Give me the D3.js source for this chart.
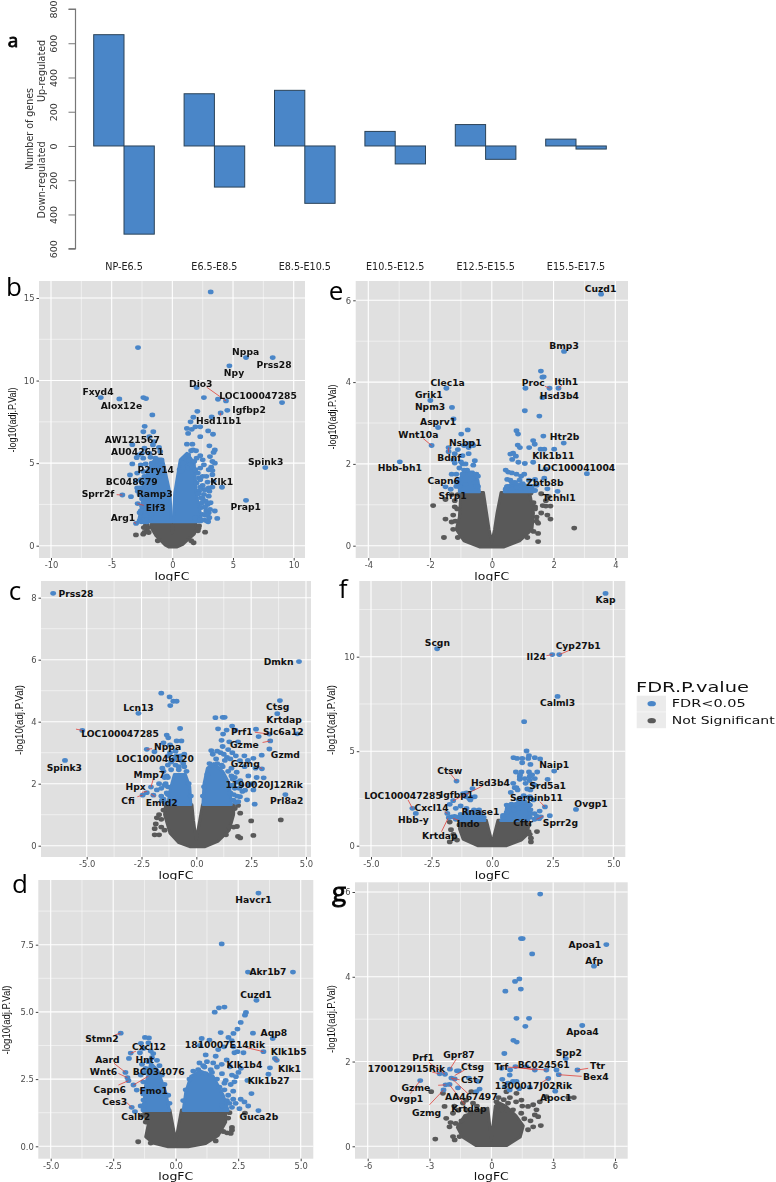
<!DOCTYPE html>
<html><head><meta charset="utf-8"><style>
html,body{margin:0;padding:0;background:#fff}
svg{display:block;filter:blur(.3px)}
text{font-family:"DejaVu Sans",sans-serif}
</style><script src="https://d3js.org/d3.v7.min.js"></script></head><body><svg id="c" width="776" height="1182"></svg>
<script>
// ---- panel a
const stages=["NP-E6.5","E6.5-E8.5","E8.5-E10.5","E10.5-E12.5","E12.5-E15.5","E15.5-E17.5"];
const upGenes=[650,305,325,85,125,40];
const downGenes=[515,240,335,105,78,18];
const barTicks=[800,600,400,200,0,-200,-400,-600];

// ---- panel b  (logFC, -log10 adj P)
const bSig=[[3.16,15.37],[-2.83,12],[6.07,11.39],[8.27,11.39],[4.7,10.89],[2,9.58],[2.6,8.97],[-5.9,8.97],[-4.37,8.89],[-2.39,8.97],[-2.17,8.91],[3.76,8.87],[4.42,8.77],[9.04,8.67],[4.53,8.2],[3.98,8.04],[2.06,8.14],[3.24,7.8],[-1.65,7.92],[1.73,7.78],[-2.28,7.23],[-1.57,6.9],[-2.39,6.9],[-1.9,6.6],[-3.3,6.12],[-2.94,5.33],[-3.3,4.95],[-3.49,4.28],[7.66,4.73],[4.09,3.54],[6.07,2.75],[-4.12,3.07],[-3.41,2.97],[-2.86,2.55],[-2.99,1.35],
[1.5,7.5],[1.2,7.1],[1.6,7.05],[1.9,7.2],[2.3,7.2],[1.3,6.8],[2.3,6.6],[2.95,6.95],[3.35,6.75],[1.2,6.15],[1.65,6.15],[3.05,6.05],[3.5,5.8],[3.4,5.65],[1.7,5.8],[1.55,5.75],[1.95,5.75],[1.3,5.5],[1,5.3],[2.3,5.45],[2,5.3],[3.1,5.4],[2.5,5.2],[3.3,5.1],[3.5,5],[1.4,5.2],[1.8,5.1],[2.6,4.9],[3.2,4.75],[3,4.6],[3.3,4.55],[2.8,4.2],[3.4,3.9],[3.3,4.3],[2.9,3.85],[3,3.5],[3.3,3.55],[2.5,3.65],[2.2,3.3],[2.6,3.1],[3,3],[2.5,2.85],[2.9,2.5],[2.4,2.3],[2.8,2.1],[3,2],[2.5,1.9],[2.7,1.85],[3.7,1.65],[2.9,1.85],[1.9,1.7],[2.3,1.6],[2.1,4.4],[2.3,4.7],[1.5,4.9],[2.2,4.1],[2,3.8],
[.6,4.6],[.9,5],[.75,4.5],[1.3,4.7],[1.65,4.75],[1.9,4.6],[2.3,4],[2.5,4.2],[2.6,3.4],[2.35,2.9],[2.75,2.7],[3.15,2.6],[3.1,2.2],[2.35,2.55],[2.7,2.35],[2.65,1.55],[2.85,1.5],[3.05,1.7],[2.95,1.45],[2.3,3.55],[2.15,3.15],[3.5,2.1],[3.05,3.3],[2.75,3.4],[2.45,2.6],
[-2.3,5.9],[-2.5,5.6],[-1.5,6.3],[-1.6,6.1],[-1.1,5.95],[-1,5.7],[-1.9,5.6],[-2.8,5.5],[-2.4,5.3],[-1.8,5.35],[-1.4,5.3],[-2.6,4.9],[-2.2,4.95],[-1.7,5],[-1.2,5.1],[-.9,5.2],[-2.9,4.4],[-2.4,4.5],[-1.9,4.6],[-1.3,4.6],[-.9,4.7],[-3,3.9],[-2.6,4],[-2.1,4.1],[-1.6,4.1],[-2.9,3.5],[-2.5,3.5],[-2.1,3.6],[-2.7,3.1],[-2.3,3],[-2,3.2],[-2.5,2.4],[-2.1,2.6],[-2.3,2.1],[-1.9,2.2],[-2.5,1.6],[-2.2,1.8],[-1.9,1.6],[-2.1,1.45],[-1.7,1.9],[-1.5,2.5],[-1.6,3.1],[-1.3,3.5],[-1.5,3.9],[-1.1,4.2],
[-1.8,4.3],[-2.3,4.2],[-2.5,3.8],[-2.7,3.5],[-2.2,3.3],[-2.5,2.85],[-2.85,3.3],[-2.35,2.6],[-2.6,2.1],[-2.7,1.5],[-2.55,1.45],[-2.35,1.45],[-2.2,1.55],[-2.7,2],[-2.15,2.3],[-2.3,3.7]];
const bNs=[[-3,.65],[-2.4,.7],[-2.3,.8],[-2.1,.9],[-2.2,1.2],[2.7,.82],[1.75,.18],[-2,1.1],[-2.1,1.25],[-1.95,.8],[2.1,.9],[2.2,1.2],[2.15,1.05],[-2.35,1.1],[1.55,.3],[-1.2,.3]];
const bCoreGrey=[[-.05,1.42],[-1.7,1.42],[-1.75,1.1],[-1.35,.6],[-1,.35],[-.6,.05],[-.3,-.08],[.4,-.08],[.9,.1],[1.25,.35],[1.8,.7],[2,1.1],[1.9,1.42],[.05,1.42],[.02,.9],[0,.75]];
const bCoreBlue=[[[.07,1.45],[.2,3.2],[.65,5.2],[1.2,5.6],[1.8,5],[1.9,4],[2,3],[2.3,2],[2.4,1.45]],[[-.07,1.45],[-.2,3.2],[-.8,5.2],[-1.4,5.3],[-2,4.6],[-2.4,3.4],[-2.5,2.5],[-2.8,1.45]]];
const bLabels=[["Nppa",6.04,11.74],["Prss28",8.38,10.99],["Npy",5.08,10.48],["Dio3",2.34,9.84],["LOC100047285",7.06,9.11],["Fxyd4",-6.13,9.31],["Alox12e",-4.2,8.48],["Igfbp2",6.32,8.26],["Hsd11b1",3.82,7.56],["AW121567",-3.3,6.44],["AU042651",-2.88,5.72],["Spink3",7.69,5.07],["P2ry14",-1.37,4.63],["BC048679",-3.35,3.9],["Klk1",4.07,3.9],["Sprr2f",-6.13,3.17],["Ramp3",-1.46,3.13],["Elf3",-1.37,2.32],["Prap1",6.04,2.34],["Arg1",-4.07,1.68]];
const bLinks=[[2.83,9.6,4.42,8.77],[-4.59,3.09,-4.12,3.07],[-2.86,2.55,-2.34,2.44],[-3.16,1.41,-2.99,1.35],[3.93,7.86,3.98,8.04]];

// ---- panel e
const eSig=[[3.54,6.15],[2.34,4.75],[1.59,4.27],[1.68,4.13],[1.64,4.12],[1.64,3.62],[1.87,3.85],[2.16,3.85],[1.09,3.85],[1.07,3.3],[1.54,3.17],[-1.47,3.85],[-1.99,3.55],[-1.29,3.38],[-1.24,3.1],[-1.74,2.89],[-.78,2.83],[-.99,2.73],[-1.95,2.45],[-1.4,2.4],[-1.4,2.3],[-2.98,2.05],[.8,2.81],[.85,2.73],[1.67,2.68],[2.33,2.51],[1.34,2.57],[1.39,2.48],[.84,2.46],[.91,2.4],[1.21,2.4],[1.58,2.36],[1.7,2.36],[2.02,2.36],[.69,2.26],[.6,2.24],[.78,2.19],[.66,2.11],[.86,2.04],[1.07,2.01],[1.34,2.04],[1.74,1.87],[3.08,1.76],[.45,1.85],[.53,1.8],[.65,1.78],[.8,1.75],[.95,1.7],[1.05,1.75],[.6,1.6],[.5,1.62],[1,1.52],[1.2,1.6],[1.4,1.62],[1.7,1.65],[1.3,1.45],[1.8,1.39],[2.13,1.33],[-1.5,1.44],[-1.33,1.38],
[-.72,2.5],[-.65,2.5],[-.9,2.45],[-1.1,2.35],[-1.2,2.25],[-1.25,2.1],[-1.2,2.02],[-.95,2.2],[-.75,2.25],[-.55,2.08],[-.6,1.97],[-.95,2],[-.85,2],[-.8,1.85],[-1.05,1.9],[-1.3,1.75],[-1.15,1.75],[-.5,1.75],[-.45,1.7],[-1.1,1.6],[-1.15,1.45],[-.9,1.85],[-1,2.05],
[-1.05,1.45],[-.85,1.5],[-.7,1.75],[-.55,1.55],[-.5,1.45],[-.45,1.45],[-.95,1.75],[-1.15,1.55],[-.6,2.45],[-.75,2.4],[.5,1.45],[.45,1.38],[.75,1.55],[.9,1.6],[1.1,1.4],[1.4,1.35],[.8,1.42],[1.25,1.35],[.65,1.55],[1.45,1.48]];
const eNs=[[-1.9,.98],[-1.5,1.13],[-1.3,1.25],[-1.5,.65],[-1.3,.58],[-1.55,.2],[-1.25,.75],[-1.2,.95],[-1.2,1.1],[1.6,1.27],[1.75,1.1],[1.65,.98],[1.75,.97],[1.9,.97],[1.85,1.2],[1.6,.8],[1.8,.75],[1.9,.65],[2.67,.43],[1.5,.55],[1.5,.1],[1.5,.3],[1.4,.95],[1.45,.7],[-1.1,1.25],[-1.12,.9],[-1.18,.6],[-1.25,.4],[-1.1,.2],[1.4,.9],[1.45,.6],[1.35,1.05],[1.25,1.28],[1.15,.2],[1.35,.35]];
const eCoreGrey=[[-.27,1.3],[-1,1.3],[-1.05,.7],[-1.15,.4],[-.9,.12],[-.4,-.03],[.4,-.03],[.9,.12],[1.3,.4],[1.35,.8],[1.25,1.2],[1.2,1.3],[.3,1.3],[.17,.8],[.09,.4],[0,.08],[-.09,.4],[-.17,.8]];
const eCoreBlue=[[[.4,1.32],[.45,1.45],[.7,1.5],[1,1.5],[1.3,1.45],[1.35,1.32]],[[-.4,1.32],[-.45,1.6],[-.6,1.8],[-.9,1.8],[-1.05,1.6],[-1.05,1.32]]];
const eLabels=[["Cuzd1",3.52,6.29],["Bmp3",2.34,4.89],["Itih1",2.41,4.01],["Clec1a",-1.43,3.99],["Proc",1.34,3.99],["Hsd3b4",2.19,3.66],["Grik1",-2.04,3.69],["Npm3",-2,3.39],["Asprv1",-1.74,3.02],["Wnt10a",-2.38,2.72],["Htr2b",2.36,2.66],["Nsbp1",-.86,2.53],["Klk1b11",1.99,2.21],["Bdnf",-1.38,2.15],["Hbb-bh1",-2.98,1.9],["LOC100041004",2.74,1.91],["Capn6",-1.56,1.58],["Zbtb8b",1.72,1.54],["Sfrp1",-1.27,1.22],["Tchhl1",2.18,1.17]];
const eLinks=[[1.72,3.9,1.87,3.85],[2.28,3.93,2.16,3.85],[-2.22,2.62,-1.95,2.45],[-1.4,2.28,-1.4,2.4]];

// ---- panel c
const cSig=[[-6.53,8.14],[4.68,5.94],[-1.6,4.92],[-1.22,4.8],[-1.19,4.52],[-1.05,4.66],[-.9,4.66],[-2.64,4.27],[3.81,4.68],[3.69,4.26],[.87,4.13],[1.2,4.14],[1.29,4.14],[1.63,3.86],[2.72,3.76],[.99,3.77],[1.38,3.73],[1.78,3.73],[1.22,3.6],[2.84,3.52],[3.33,3.6],[4.6,3.61],[3.37,3.38],[3.33,3.12],[-5.2,3.72],[-.74,3.78],[-1.35,3.57],[-1.28,3.48],[-.9,3.38],[-.68,3.38],[-1.5,3.32],[-1.2,3.25],[-2.26,3.11],[-1.91,3.03],[-5.99,2.75],[2.99,2.48],[3.07,2.19],[4.06,1.65],[-2.07,1.89],[-2.45,1.63],[-2.26,1.71],[-1.96,1.63],[-1.57,1.46],
[.68,3.07],[1.15,3.4],[1.5,3.35],[1.9,3.35],[1.2,3.2],[1.64,3],[2.19,2.9],[2.6,2.82],[1.99,2.74],[2.98,2.92],[1.84,2.37],[2.37,2.25],[2.75,2.2],[2,2.1],[2.05,1.95],[2.55,2],[2.22,1.79],[2.6,1.8],[1.99,1.58],[2.31,1.48],[2.66,1.34],[1.69,1.47],[1.91,1.42],[1.1,3],[1.4,2.85],[.9,2.8],[1.3,2.75],[.6,2.65],[1.6,2.5],[1.2,2.55],[1.65,2.15],[1.75,1.85],[1.55,1.7],
[.3,1.6],[.35,1.9],[.5,2.3],[.7,2.6],[.95,2.65],[1.15,2.6],[1.45,2.4],[1.6,2.25],[1.75,2.2],[1.85,2.05],[1.65,1.95],[1.7,1.65],[1.85,1.6],[1.95,1.85],[1.8,1.4],[2.1,1.75],[.75,2.95],[.95,3.05],[1.25,2.95],[1.55,2.8],[1.45,3.1],[1.8,2.9],[2.2,2.55],[2.35,2.75],[2.7,2.5],[2.4,1.95],
[-1.5,2.4],[-1.3,2.6],[-1,2.8],[-.6,2.65],[-.9,2.9],[-.7,2.9],[-1.3,2.9],[-1.7,2],[-1.6,1.85],[-1.3,1.9],[-1.5,1.5],[-1.3,1.65],[-1.8,1.8],[-1.1,2.75],[-.8,2.45],[-1.45,2.2],[-1.45,1.95],
[-.25,1.6],[-.35,2],[-.45,2.4],[-.55,2.55],[-.8,2.55],[-.95,2.6],[-1.15,2.45],[-1.35,2.25],[-1.4,2],[-1.35,1.7],[-1.45,1.4],[-1.25,1.4],[-1.6,1.6],[-1.15,2.7],[-.7,2.75],[-.55,2.95],[-1.2,3],[-.95,3.05],[-1.3,2.2],[-1.55,2.5]];
const cNs=[[-1.8,.9],[-1.7,1],[-1.6,.85],[-1.85,.7],[-1.9,.55],[-1.9,.35],[-1.7,.35],[-1.6,.6],[1.5,.6],[1.7,.6],[1.85,.62],[1.9,.3],[2,.25],[2.5,.8],[2.6,.33],[3.85,.83],[1.9,1.3],[2,1.05],[-1.5,1.15],[-1.45,.5],[1.35,.35],[1.75,1.2]];
const cCoreGrey=[[-.2,1.32],[-1.4,1.32],[-1.45,1],[-1.2,.4],[-.8,.1],[-.3,-.03],[.4,-.03],[1,.15],[1.5,.5],[1.7,1],[1.7,1.32],[.28,1.32],[.15,.8],[.06,.45],[0,.2],[-.06,.45],[-.13,.8]];
const cCoreBlue=[[[.3,1.33],[.35,2],[.5,2.5],[.8,2.65],[1.2,2.4],[1.5,2],[1.6,1.33]],[[-.25,1.33],[-.3,1.9],[-.5,2.3],[-1,2.3],[-1.2,1.8],[-1.3,1.33]]];
const cLabels=[["Prss28",-5.49,8.13],["Dmkn",3.75,5.94],["Lcn13",-2.64,4.45],["Ctsg",3.71,4.47],["Krtdap",4,4.07],["Prf1",2.07,3.68],["Slc6a12",3.97,3.68],["LOC100047285",-3.48,3.6],["Nppa",-1.31,3.2],["Gzme",2.19,3.27],["Gzmd",4.06,2.92],["LOC100046120",-1.88,2.81],["Gzmg",2.23,2.65],["Spink3",-6.02,2.53],["Mmp7",-2.14,2.28],["1190020J12Rik",3.09,1.98],["Hpx",-2.77,1.89],["Cfi",-3.12,1.46],["Emid2",-1.58,1.4],["Prl8a2",4.12,1.44]];
const cLinks=[[-5.49,3.76,-5.2,3.72],[-2.26,3.11,-2.02,3.13],[2.67,3.66,3.33,3.6],[3.02,3.33,3.37,3.38],[2.83,2.57,2.99,2.48],[-1.96,2.16,-2.07,1.89],[-2.69,1.58,-2.45,1.63],[-2.49,1.72,-2.26,1.75],[-2.07,1.67,-1.87,1.58]];

// ---- panel f
const fSig=[[4.68,13.35],[-2.27,10.42],[2.48,10.11],[2.77,10.11],[2.7,7.9],[1.32,6.56],[1.42,5.01],[.88,4.66],[1.03,4.62],[1.24,4.62],[1.52,4.76],[1.49,4.62],[1.76,4.66],[1.98,4.59],[1.24,4.39],[1.58,4.3],[2.56,3.95],[.98,3.9],[1.21,3.9],[1.52,3.9],[1.86,3.9],[1.58,3.74],[1.14,3.65],[1.55,3.65],[1.76,3.55],[2.29,3.51],[1.14,3.51],[1.38,3.3],[.87,3.3],[1.76,3.2],[.93,3.07],[1,3.07],[1.45,3],[1.58,2.95],[.77,2.82],[1.56,2.6],[1.14,2.52],[1.7,2.42],[3.46,1.92],[2.18,2.05],[1.96,1.83],[2.38,1.59],[2.01,1.53],[1.94,1.43],[1.56,2.15],[1.58,1.9],[1.29,2.25],[1.1,2.4],[.6,2.15],[.7,2],[.9,1.9],[1.1,2],[1.4,2.05],[1.75,1.7],[.45,1.5],
[.45,1.6],[.6,1.75],[.65,2.1],[.8,2.2],[1,2.2],[1.2,2.35],[1.35,2.3],[1.5,2.2],[1.6,1.7],[1.55,1.5],[1.75,1.4],[1.3,2.65],[1.5,2.55],[1.05,2.95],[1.55,3.45],[1.35,3.55],[1.7,3.25],[1.65,3.75],[1.15,3.75],[1.85,1.55],
[-1.47,3.42],[-.81,3.02],[-1.06,2.8],[-.72,2.59],[-.9,2.42],[-1.61,2.38],[-1.75,2.19],[-3.29,1.98],[-3.15,1.71],[-1.5,1.98],[-1.85,1.71],[-1.68,1.53],[-1.79,1.48],[-1.34,1.5],[-1.06,1.98],[-1,1.75],[-.54,1.89],[-1.2,2.75],[-1.3,2.1],[-.75,1.8],[-.6,1.6],
[-.35,1.5],[-.5,1.7],[-.7,1.85],[-1.05,1.75],[-1.3,1.65],[-1.45,1.5],[-1.5,1.4],[-.95,2.5],[-1.1,2.6],[-.85,2.55],[-.75,1.9],[-1.55,1.55],[-.45,1.6]];
const fNs=[[-1.7,.85],[-1.6,.6],[-1.75,.2],[-1.55,.4],[-1.45,.3],[-1.75,1.25],[1.85,.75],[1.6,.4],[1.6,.2],[1.5,.75],[-1.35,1.1],[1.5,1.1],[1.55,.6]];
const fCoreGrey=[[-.24,1.35],[-1.3,1.35],[-1.35,.9],[-1.2,.35],[-.6,0],[.6,0],[1.2,.3],[1.45,.6],[1.5,1],[1.4,1.35],[.24,1.35],[.13,.8],[.06,.45],[0,.25],[-.06,.45],[-.13,.8]];
const fCoreBlue=[[[.35,1.33],[.55,1.6],[.6,2.1],[.9,2.1],[1.3,2.3],[1.55,2.1],[1.5,1.33]],[[-.3,1.33],[-.45,1.6],[-.8,1.7],[-1.3,1.55],[-1.4,1.33]]];
const fLabels=[["Kap",4.68,13],["Scgn",-2.26,10.72],["Cyp27b1",3.55,10.6],["Il24",1.82,10],["Calml3",2.7,7.57],["Naip1",2.56,4.27],["Ctsw",-1.75,3.99],["Hsd3b4",-.07,3.35],["Srd5a1",2.29,3.19],["LOC100047285",-3.68,2.66],["Igfbp1",-1.47,2.7],["Serpinb11",1.83,2.52],["Ovgp1",4.08,2.22],["Cxcl14",-2.5,2.03],["Rnase1",-.48,1.8],["Hbb-y",-3.25,1.38],["Indo",-.99,1.16],["Cftr",1.28,1.22],["Sprr2g",2.82,1.23],["Krtdap",-2.16,.53]];
const fLinks=[[-3.47,2.42,-3.29,1.98],[-1.71,3.79,-1.47,3.42],[-.4,3.16,-1.61,2.38],[-1.96,1.8,-1.85,1.71],[-1.61,1.45,-1.34,1.32],[-2.09,.74,-1.82,1.45],[2.24,10.05,2.48,10.11],[3.21,10.35,2.77,10.11],[1.97,2.33,2.18,2.05],[2.11,1.57,1.83,1.39]];

// ---- panel d
const dSig=[[3.31,9.42],[1.84,7.53],[2.89,6.48],[4.69,6.48],[3.23,5.43],[1.95,5.18],[1.73,5.15],[1.56,4.99],[2.81,4.98],[2.77,4.88],[2.6,4.61],[2.47,4.36],[2.31,4.2],[3.09,4.21],[1.8,4.23],[3.88,4.01],[2.11,4.05],[1.04,4.01],[1.35,3.95],[2.24,3.93],[.97,3.75],[1.7,3.6],[1.93,3.7],[2.31,3.7],[3.51,3.52],[2.47,3.52],[2.35,3.48],[2.71,3.48],[3.97,3.27],[4.04,3.2],[3.77,2.92],[3.71,2.68],[2.87,2.45],[2.61,2.9],[2.51,2.75],[2.41,2.59],[2.17,2.96],[2.04,3.21],[1.84,3.05],[3.03,1.96],[3.31,1.33],[1.2,3.4],[1.5,3.1],[1.1,3],[1.4,2.85],[.9,2.7],[1.85,2.7],[2.2,2.3],[2.3,2.05],[2.6,1.75],[2.4,1.6],[2.55,1.4],[2.9,1.5],[2.75,1.65],[2.15,1.6],[2,2.45],
[.3,1.7],[.4,2.1],[.55,2.5],[.7,2.8],[.9,2.85],[1.2,2.7],[1.45,2.75],[1.65,2.5],[1.75,2.2],[1.95,2.1],[2.1,1.9],[2.05,1.7],[1.85,1.5],[2.25,1.45],[2.3,1.75],[.95,3.1],[1.25,3.15],[1.65,2.95],[1.6,3.35],[2.25,2.65],[1.95,2.35],[1.15,2.95],[2.35,2.4],
[-2.2,4.21],[-1.23,4.05],[-1.07,4.03],[-1.39,3.83],[-1.09,3.85],[-1.8,3.47],[-1.87,3.27],[-1.43,3.48],[-1.29,3.64],[-1.03,3.2],[-2.01,2.75],[-1.93,2.55],[-1.89,2.44],[-1.69,2.28],[-1.56,2.09],[-1.76,1.45],[-1.63,1.29],[-1.29,1.35],[-1.29,1.72],[-1.3,2.1],[-1.2,2.9],[-1.3,2.4],[-1.4,2.65],[-1.35,3.05],
[-.25,1.6],[-.3,1.9],[-.45,2.3],[-.55,2.65],[-.65,3],[-.75,3.2],[-.95,3.3],[-1.1,3.15],[-1.25,2.75],[-1.3,1.95],[-1.4,1.5],[-1.25,1.55],[-.9,3.45],[-1,3.55]];
const dNs=[[-1.5,.17],[-1,.12],[-1.35,1.15],[1.6,.2],[2.25,.7],[2.25,.6],[2.05,.5],[2.2,.48],[2.1,1.05],[2.77,1.23],[2.15,1.25],[-1.2,.9],[1.9,.55]];
const dCoreGrey=[[-.23,1.35],[-1.3,1.35],[-1.1,.8],[-1.2,.35],[-.9,.12],[-.3,-.02],[.5,-.02],[1.2,.1],[1.7,.4],[2,.9],[2,1.3],[.23,1.35],[.12,.8],[.05,.45],[0,.2],[-.05,.45],[-.12,.8]];
const dCoreBlue=[[[.3,1.33],[.4,2],[.6,2.6],[1,2.8],[1.5,2.6],[1.9,1.9],[2.1,1.33]],[[-.25,1.33],[-.4,2],[-.7,2.8],[-1,3.1],[-1.2,2.3],[-1.3,1.33]]];
const dLabels=[["Havcr1",3.11,9.18],["Akr1b7",3.69,6.48],["Cuzd1",3.21,5.65],["Aqp8",3.93,4.24],["Stmn2",-2.95,3.99],["1810007E14Rik",1.97,3.79],["Cxcl12",-1.07,3.69],["Klk1b5",4.52,3.51],["Aard",-2.73,3.23],["Hnt",-1.24,3.23],["Klk1b4",2.75,3.05],["Klk1",4.55,2.9],["Wnt6",-2.89,2.78],["BC034076",-.68,2.79],["Klk1b27",3.72,2.44],["Capn6",-2.64,2.12],["Fmo1",-.88,2.08],["Ces3",-2.44,1.67],["Calb2",-1.6,1.1],["Guca2b",3.33,1.09]];
const dLinks=[[-2.43,4.14,-2.2,4.21],[-1.59,3.54,-1.8,3.46],[-2.47,3.09,-2.01,2.75],[-2.29,2.71,-1.93,2.55],[-2.29,2.28,-1.89,2.44],[-1.09,2.61,-1.69,2.28],[-1.96,1.63,-1.76,1.45],[2.84,3.67,3.51,3.52],[4.07,3.17,3.97,3.27]];

// ---- panel g
const gSig=[[2.37,5.95],[5.58,4.76],[4.98,4.25],[1.44,4.9],[1.52,4.9],[1.98,4.54],[1.36,3.95],[1.15,3.89],[1.43,3.71],[.68,3.66],[1.22,3.02],[1.83,3.02],[1.65,2.83],[4.41,2.85],[1.07,2.5],[1.23,2.46],[.63,2.19],[3.61,2.07],[4.18,1.8],[3.27,1.69],[3.16,1.8],[2.67,1.8],[2.11,1.8],[1.7,1.88],[1.17,1.88],[.49,1.84],[.91,1.8],[.89,1.68],[.53,1.58],[2.76,1.6],[1.05,1.53],[1.22,1.53],[.81,1.49],[1.35,1.36],[1.86,1.39],[.65,1.41],[.89,1.33],[3.1,1.3],
[-2.01,1.82],[-1.67,1.78],[-1.58,1.78],[-2.25,1.7],[-2.51,1.71],[-1.94,1.61],[-1.78,1.59],[-1.09,1.61],[-3.45,1.55],[-1.62,1.38],[-2.22,1.45],[-2.03,1.46],[-2.32,1.33],[-.65,1.53],[-.57,1.35],[-.73,1.29]];
const gNs=[[-2.92,1.29],[-2.35,1.25],[-2.72,.17],[-2.19,.66],[-1.98,.56],[-1.73,.54],[-2.03,.46],[-2.27,.94],[-1.86,.78],[-1.38,1.02],[-.97,1.29],[-1.22,1.09],[-.89,1.02],[-.4,.86],[-.7,.86],[-1.8,.95],[-1.6,.85],[-1.2,.85],[-1,.82],[-.7,.95],[.73,1.29],[1.22,1.25],[1.46,1.09],[.81,1.02],[1.05,.86],[1.78,.94],[2.03,.98],[2.19,.86],[2.35,1.05],[2.67,1.17],[2.11,.74],[2.27,.7],[2.4,.49],[2.03,.46],[1.78,.39],[.73,.86],[.4,.94],[.49,.86],[4,1.15],[3.73,1.15],[-1.54,.23],[-1.86,.23],[-1.78,.15],[1.2,1.05],[1.5,.95],[.9,1.15],[.6,1.1],[1.9,.6],[1.6,.65],[1.45,.78],[-1.45,.6],[.25,1.05],[.35,1.15]];
const gCoreGrey=[[-.17,.9],[-.5,.85],[-1.3,.72],[-1.65,.45],[-1.4,.22],[-.75,.02],[.75,.02],[1.4,.22],[1.55,.48],[1.2,.72],[.7,.95],[.4,1.02],[.19,.95],[.08,.5],[0,.15],[-.08,.5]];
const gCoreBlue=[];
const gLabels=[["Apoa1",4.54,4.75],["Afp",4.99,4.38],["Apoa4",4.42,2.71],["Gpr87",-1.57,2.15],["Spp2",3.76,2.2],["Prf1",-3.31,2.09],["Trf",.49,1.87],["BC024561",2.54,1.92],["Ctsg",-.91,1.88],["Ttr",5.15,1.91],["1700129I15Rik",-4.12,1.82],["Bex4",5.07,1.65],["Cst7",-.92,1.57],["1300017J02Rik",2.04,1.43],["Gzme",-3.66,1.39],["Apoc1",3.13,1.15],["AA467497",-.97,1.16],["Ovgp1",-4.12,1.13],["Krtdap",-1.09,.89],["Gzmg",-3.14,.8]];
const gLinks=[[-3.03,1.98,-2.25,1.7],[-1.7,2.06,-2.01,1.82],[-1.3,1.8,-1.78,1.67],[-2.87,1.75,-2.51,1.71],[-1.54,1.57,-1.94,1.61],[-2.58,1.44,-2.22,1.45],[-3.94,1.24,-3.45,1.55],[-3,.98,-2.32,1.33],[-1.13,1.24,-1.94,1.61],[-1.3,.99,-2.03,1.45],[.78,1.87,2.67,1.8],[1.1,1.88,2.11,1.8],[4.7,1.84,4.18,1.8],[4.38,1.65,3.27,1.69],[2.46,1.51,2.76,1.6]];

const legendItems=["FDR<0.05","Not Significant"];
const BLUE="#4a86c8",GREY="#595959",RED="#e0413a";

const svg=d3.select("#c");

// ---------- panel a drawing
(function(){
  const y=d3.scaleLinear().domain([800,-600]).range([9,248.7]);
  const centers=d3.scalePoint().domain(stages).range([124,576]);
  const g=svg.append("g");
  const bw=30.3;
  stages.forEach((s,i)=>{
    g.append("rect").attr("x",centers(s)-bw).attr("y",y(upGenes[i])).attr("width",bw).attr("height",y(0)-y(upGenes[i]));
    g.append("rect").attr("x",centers(s)).attr("y",y(0)).attr("width",bw).attr("height",y(-downGenes[i])-y(0));
  });
  g.selectAll("rect").attr("fill",BLUE).attr("stroke","#2b4358").attr("stroke-width",1);
  const ax=svg.append("g").attr("transform","translate(75.5,0)").call(d3.axisLeft(y).tickValues(barTicks).tickSize(7).tickFormat(d=>Math.abs(d)));
  ax.select(".domain").attr("stroke","#777").attr("stroke-width",1.2).attr("d",`M-7,${y(800)}H0V${y(-600)}H-7`);
  ax.selectAll("line").attr("stroke","#777");
  ax.selectAll("text").attr("fill","#333").attr("font-size",9.5).attr("x",0).attr("y",0).attr("dy",null)
    .attr("text-anchor","middle").attr("transform","translate(-19,0) rotate(-90)");
  const rot=(t,x,yy,len)=>svg.append("text").text(t).attr("transform",`translate(${x},${yy}) rotate(-90)`).attr("text-anchor","middle").attr("font-size",10).attr("fill","#333").attr("textLength",len).attr("lengthAdjust","spacingAndGlyphs");
  rot("Number of genes",33,129,82);
  rot("Up-regulated",45,71,62);
  rot("Down-regulated",45,180,77);
  svg.append("g").selectAll("text").data(stages).join("text").text(d=>d)
    .attr("x",d=>centers(d)).attr("y",270).attr("text-anchor","middle").attr("font-size",9.6).attr("fill","#222");
})();

// ---------- volcano drawing
function volcano(p){
  const x=d3.scaleLinear().domain(p.xa).range(p.xr);
  const y=d3.scaleLinear().domain(p.ya).range(p.yr);
  const g=svg.append("g");
  g.append("rect").attr("x",p.box[0]).attr("y",p.box[2]).attr("width",p.box[1]-p.box[0]).attr("height",p.box[3]-p.box[2]).attr("fill","#e0e0e0");
  const grid=(vals,w,v)=>g.append("g").selectAll("line").data(vals).join("line").attr("stroke","#fff").attr("stroke-width",w)
    .attr("x1",d=>v?x(d):p.box[0]).attr("x2",d=>v?x(d):p.box[1]).attr("y1",d=>v?p.box[2]:y(d)).attr("y2",d=>v?p.box[3]:y(d));
  const mid=t=>t.slice(1).map((d,i)=>(d+t[i])/2);
  grid(mid(p.xt),.5,true);grid(mid(p.yt.concat([p.yt[p.yt.length-1]*2-p.yt[p.yt.length-2]])).filter(d=>y(d)>p.box[2]),.5,false);
  grid(p.xt,1.1,true);grid(p.yt,1.1,false);
  const line=d3.line().x(d=>x(d[0])).y(d=>y(d[1])).curve(d3.curveLinearClosed);
  g.append("path").attr("d",line(p.grey)).attr("fill",GREY).attr("stroke",GREY).attr("stroke-width",3).attr("stroke-linejoin","round");
  const dots=(d,c)=>g.append("g").selectAll("ellipse").data(d).join("ellipse").attr("cx",e=>x(e[0])).attr("cy",e=>y(e[1])).attr("rx",2.9).attr("ry",2.4).attr("fill",c);
  dots(p.ns,GREY);
  p.blue.forEach(b=>g.append("path").attr("d",line(b)).attr("fill",BLUE).attr("stroke",BLUE).attr("stroke-width",3).attr("stroke-linejoin","round"));
  dots(p.sig,BLUE);
  g.append("g").selectAll("line").data(p.links).join("line").attr("x1",d=>x(d[0])).attr("y1",d=>y(d[1])).attr("x2",d=>x(d[2])).attr("y2",d=>y(d[3])).attr("stroke",RED).attr("stroke-width",.8);
  g.append("g").selectAll("text").data(p.labels).join("text").text(d=>d[0]).attr("x",d=>x(d[1])).attr("y",d=>y(d[2])).attr("dy","0.36em")
    .attr("text-anchor","middle").attr("font-size",9.2).attr("font-weight","bold").attr("fill","#111");
  const ax=g.append("g").attr("transform",`translate(0,${p.box[3]})`).call(d3.axisBottom(x).tickValues(p.xt).tickSize(2.5).tickPadding(2).tickFormat(d=>d.toFixed(p.xf)));
  const ay=g.append("g").attr("transform",`translate(${p.box[0]},0)`).call(d3.axisLeft(y).tickValues(p.yt).tickSize(2.5).tickPadding(2).tickFormat(d=>d.toFixed(p.yf)));
  [ax,ay].forEach(a=>{a.select(".domain").remove();a.selectAll("line").attr("stroke","#444");a.selectAll("text").attr("fill","#4d4d4d").attr("font-size",8.4).style("font-family",'"DejaVu Sans",sans-serif');});
  g.append("text").text("logFC").attr("x",(p.box[0]+p.box[1])/2).attr("y",p.titleY).attr("text-anchor","middle").attr("font-size",10.5).attr("fill","#111").attr("textLength",35).attr("lengthAdjust","spacingAndGlyphs");
  g.append("text").text("-log10(adj.P.Val)").attr("transform",`translate(${p.ylab[0]},${p.ylab[1]}) rotate(-90)`).attr("text-anchor","middle").attr("font-size",10.5).attr("fill","#111").style("font-family",'"Liberation Sans",sans-serif').attr("textLength",p.ylab[2]).attr("lengthAdjust","spacingAndGlyphs");
}
volcano({xa:[-10,10],xr:[51,293.7],ya:[0,15],yr:[545.7,298],box:[39,305,281,558],xt:[-10,-5,0,5,10],yt:[0,5,10,15],xf:0,yf:0,titleY:580,ylab:[16,420,65],sig:bSig,ns:bNs,grey:bCoreGrey,blue:bCoreBlue,labels:bLabels,links:bLinks});
volcano({xa:[-4,4],xr:[368.3,615.3],ya:[0,6],yr:[545.7,300.3],box:[355.7,628,281,558],xt:[-4,-2,0,2,4],yt:[0,2,4,6],xf:0,yf:0,titleY:580,ylab:[336,417,65],sig:eSig,ns:eNs,grey:eCoreGrey,blue:eCoreBlue,labels:eLabels,links:eLinks});
volcano({xa:[-5,5],xr:[86.7,306],ya:[0,8],yr:[845.7,597.7],box:[41,311,581,857],xt:[-5,-2.5,0,2.5,5],yt:[0,2,4,6,8],xf:1,yf:0,titleY:879,ylab:[23,720,70],sig:cSig,ns:cNs,grey:cCoreGrey,blue:cCoreBlue,labels:cLabels,links:cLinks});
volcano({xa:[-5,5],xr:[371,613.3],ya:[0,10],yr:[845.7,656.7],box:[359.3,625.3,581,857],xt:[-5,-2.5,0,2.5,5],yt:[0,5,10],xf:1,yf:0,titleY:879,ylab:[335,720,70],sig:fSig,ns:fNs,grey:fCoreGrey,blue:fCoreBlue,labels:fLabels,links:fLinks});
volcano({xa:[-5,5],xr:[50.7,300.7],ya:[0,7.5],yr:[1146.3,944.7],box:[38.3,313.3,880,1158.7],xt:[-5,-2.5,0,2.5,5],yt:[0,2.5,5,7.5],xf:1,yf:1,titleY:1180,ylab:[10,1020,69],sig:dSig,ns:dNs,grey:dCoreGrey,blue:dCoreBlue,labels:dLabels,links:dLinks});
volcano({xa:[-6,6],xr:[367.7,615],ya:[0,6],yr:[1146.3,892],box:[355,627.7,882.3,1158.7],xt:[-6,-3,0,3,6],yt:[0,2,4,6],xf:0,yf:0,titleY:1180,ylab:[335,1019,68],sig:gSig,ns:gNs,grey:gCoreGrey,blue:gCoreBlue,labels:gLabels,links:gLinks});

// ---------- panel letters
const letters=[["a",13,47,19],["b",14,296,26],["e",336,300,26],["c",15,600,26],["f",343,598,26],["d",20,893,26],["g",339,901,26]];
svg.append("g").selectAll("text").data(letters).join("text").text(d=>d[0]).attr("x",d=>d[1]).attr("y",d=>d[2]).attr("font-size",d=>d[3]).attr("text-anchor","middle").attr("fill","#000").style("font-family",'"Open Sans",sans-serif').attr("stroke",d=>d[0]==="a"||d[0]==="g"?"#000":"none").attr("stroke-width",.8);

// ---------- legend
const lg=svg.append("g");
lg.append("text").text("FDR.P.value").attr("x",636).attr("y",692).attr("font-size",13.5).attr("fill","#111").attr("textLength",113).attr("lengthAdjust","spacingAndGlyphs");
legendItems.forEach((t,i)=>{
  lg.append("rect").attr("x",636.7).attr("y",695.7+i*16.5).attr("width",29.3).attr("height",16).attr("fill","#ebebeb");
  lg.append("ellipse").attr("cx",651.7).attr("cy",703.7+i*17).attr("rx",4.2).attr("ry",2.6).attr("fill",i?GREY:BLUE);
  lg.append("text").text(t).attr("x",671.7).attr("y",703.7+i*17).attr("dy","0.36em").attr("font-size",10.5).attr("fill","#111").attr("textLength",i?103:74).attr("lengthAdjust","spacingAndGlyphs");
});
</script></body></html>
